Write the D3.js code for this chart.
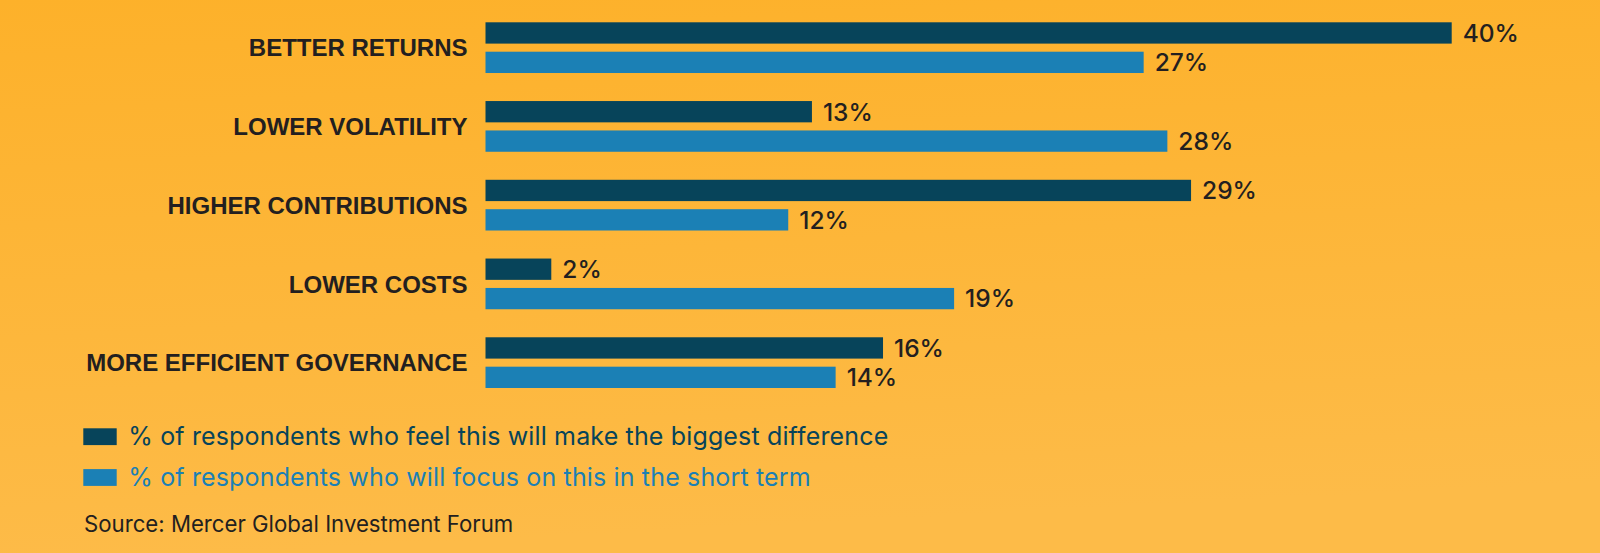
<!DOCTYPE html>
<html>
<head>
<meta charset="utf-8">
<script src="https://cdn.jsdelivr.net/npm/d3@7"></script>
<style>
  html, body { margin: 0; padding: 0; }
  body { width: 1600px; height: 553px; overflow: hidden; }
  svg { display: block; }
</style>
</head>
<body>
<svg id="chart" width="1600" height="553"></svg>
<script>
// ---- data ----
const categories = ["BETTER RETURNS", "LOWER VOLATILITY", "HIGHER CONTRIBUTIONS", "LOWER COSTS", "MORE EFFICIENT GOVERNANCE"];
const seriesKeys = ["biggest", "short"];
const seriesLabels = ["% of respondents who feel this will make the biggest difference", "% of respondents who will focus on this in the short term"];
const biggestDifference = [40, 13, 29, 2, 16];
const shortTerm = [27, 28, 12, 19, 14];
const sourceText = "Source: Mercer Global Investment Forum";

// ---- styles ----
const colors = { biggest: "#07445A", short: "#1B80B5" };
const textDark = "#231F20";
const W = 1600, H = 553;
const barLeft = 485.5, barStub = 18.4;

const svg = d3.select("#chart");

// background gradient
const defs = svg.append("defs");
const grad = defs.append("linearGradient").attr("id", "bg").attr("x1", "0").attr("y1", "0").attr("x2", "0.15").attr("y2", "1");
grad.append("stop").attr("offset", "0%").attr("stop-color", "#FDB12A");
grad.append("stop").attr("offset", "100%").attr("stop-color", "#FDBB48");
svg.append("rect").attr("width", W).attr("height", H).attr("fill", "url(#bg)");

const rows = categories.map((c, i) => ({ cat: c, biggest: biggestDifference[i], short: shortTerm[i] }));

const x = d3.scaleLinear().domain([0, 40]).range([barLeft + barStub, 1451.7]);
const y = d3.scaleBand().domain(categories).range([22.3, 388]).paddingInner(0.356).paddingOuter(0);
const ySub = d3.scaleBand().domain(seriesKeys).range([0, y.bandwidth()]).paddingInner(0.2755).paddingOuter(0);

const groups = svg.append("g").selectAll("g.grp").data(rows).join("g")
  .attr("class", "grp")
  .attr("transform", d => `translate(0,${y(d.cat)})`);

groups.selectAll("rect").data(d => seriesKeys.map(k => ({ key: k, value: d[k] }))).join("rect")
  .attr("x", barLeft)
  .attr("y", d => ySub(d.key))
  .attr("width", d => x(d.value) - barLeft)
  .attr("height", ySub.bandwidth())
  .attr("fill", d => colors[d.key]);

groups.selectAll("text.val").data(d => seriesKeys.map(k => ({ key: k, value: d[k] }))).join("text")
  .attr("class", "val")
  .attr("x", d => x(d.value) + 11)
  .attr("y", d => ySub(d.key) + ySub.bandwidth() / 2)
  .attr("dy", "0.36em")
  .attr("font-family", "Inter, 'Noto Sans', sans-serif")
  .attr("font-weight", 500)
  .attr("font-size", 24.5)
  .attr("fill", textDark)
  .text(d => d.value + "%");

// category labels
groups.append("text")
  .attr("x", barLeft - 18)
  .attr("y", y.bandwidth() / 2)
  .attr("dy", "0.36em")
  .attr("text-anchor", "end")
  .attr("font-family", "'Liberation Sans', Arial, sans-serif")
  .attr("font-weight", 700)
  .attr("font-size", 24)
  .attr("fill", textDark)
  .text(d => d.cat);

// legend
const legend = svg.append("g");
const legendY = d3.scaleBand().domain(seriesKeys).range([428.3, 428.3 + 2 * 40.8]).paddingInner(0).paddingOuter(0);
const lg = legend.selectAll("g").data(seriesKeys).join("g")
  .attr("transform", k => `translate(83.3,${legendY(k)})`);
lg.append("rect").attr("width", 33.4).attr("height", 16.8).attr("fill", k => colors[k]);
lg.append("text")
  .attr("x", 45)
  .attr("y", 16.5)
  .attr("font-family", "Inter, 'Noto Sans', sans-serif")
  .attr("font-size", 25)
  .attr("letter-spacing", 0.15)
  .attr("fill", k => colors[k])
  .text((k, i) => seriesLabels[i]);

// source
svg.append("text")
  .attr("x", 84)
  .attr("y", 532.3)
  .attr("font-family", "Inter, 'Noto Sans', sans-serif")
  .attr("font-size", 22.2)
  .attr("fill", textDark)
  .text(sourceText);
</script>
</body>
</html>
